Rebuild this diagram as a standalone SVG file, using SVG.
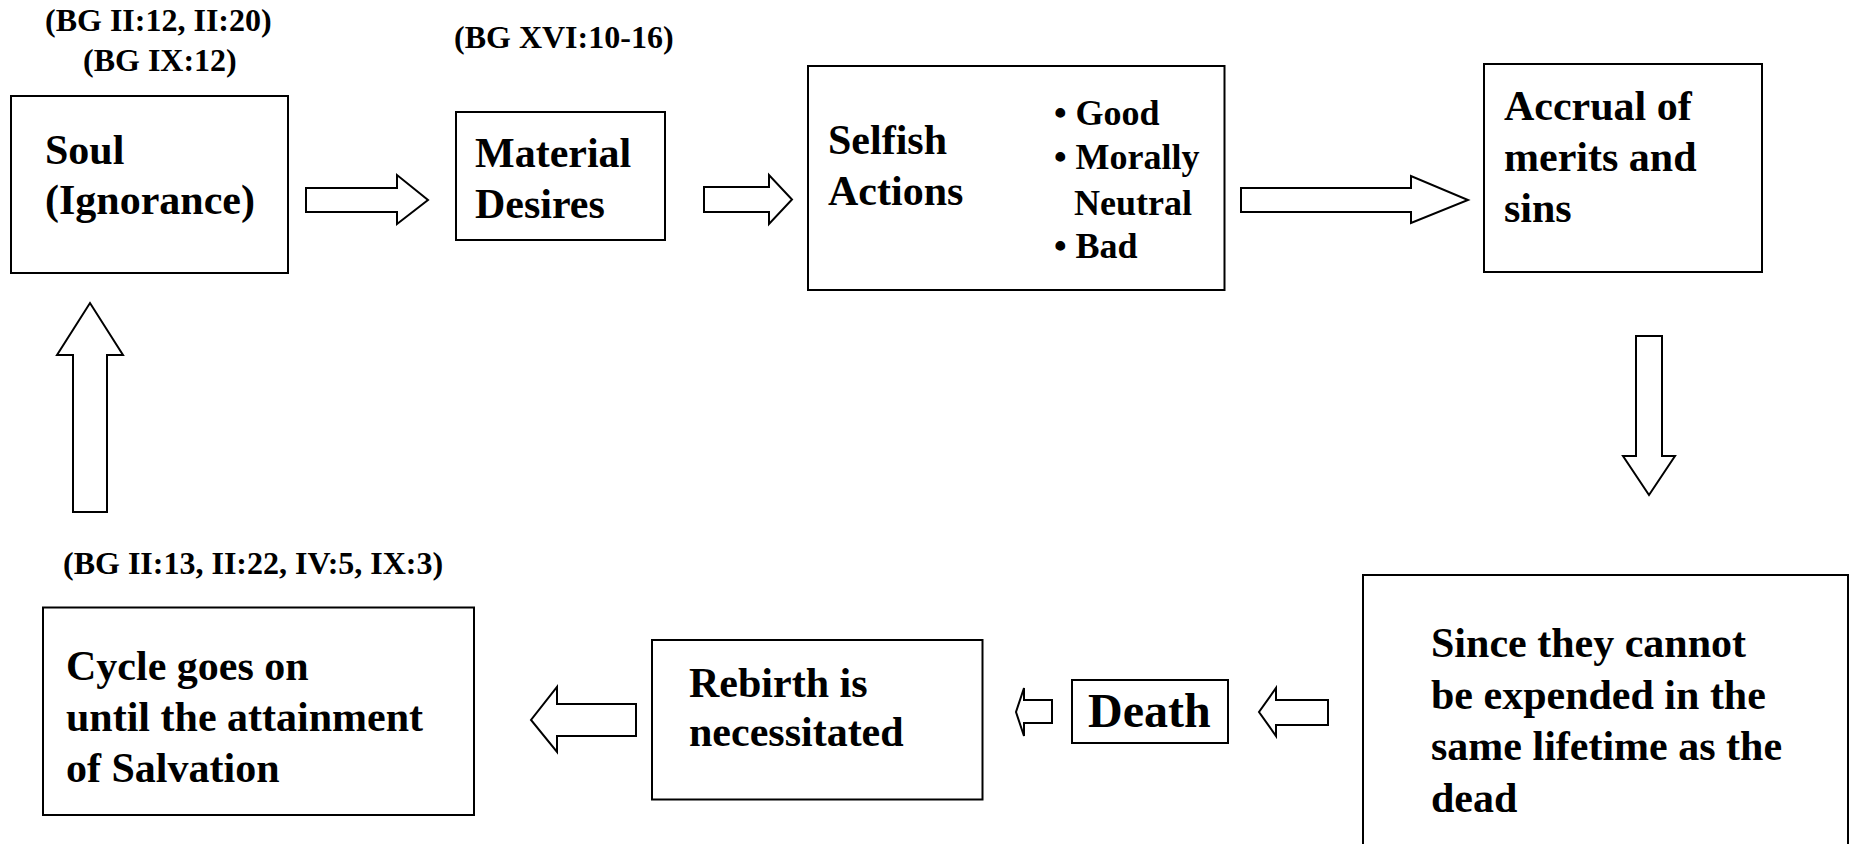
<svg xmlns="http://www.w3.org/2000/svg" width="1850" height="844" viewBox="0 0 1850 844">
  <style>
    .box { fill: #fff; stroke: #000; stroke-width: 2; }
    .arrow { fill: #fff; stroke: #000; stroke-width: 2; stroke-linejoin: miter; }
    text { font-family: "Liberation Serif", "Times New Roman", serif; font-weight: bold; fill: #000; }
    .main { font-size: 42px; }
    .bul { font-size: 36px; }
    .ref { font-size: 32px; }
    .big { font-size: 48px; }
  </style>
  <rect width="1850" height="844" fill="#fff"/>

  <!-- scripture references -->
  <g id="refs">
    <text class="ref" x="45" y="31">(BG II:12, II:20)</text>
    <text class="ref" x="83" y="71">(BG IX:12)</text>
    <text class="ref" x="454" y="48">(BG XVI:10-16)</text>
    <text class="ref" x="63" y="574">(BG II:13, II:22, IV:5, IX:3)</text>
  </g>

  <g id="soul">
    <rect class="box" x="11" y="96" width="277" height="177"/>
    <text class="main" x="45" y="164">Soul</text>
    <text class="main" x="45" y="214">(Ignorance)</text>
  </g>

  <g id="desires">
    <rect class="box" x="456" y="112" width="209" height="128"/>
    <text class="main" x="475" y="167">Material</text>
    <text class="main" x="475" y="218">Desires</text>
  </g>

  <g id="actions">
    <rect class="box" x="808" y="66" width="416.5" height="224"/>
    <text class="main" x="828" y="154">Selfish</text>
    <text class="main" x="828" y="205">Actions</text>
    <text class="bul" x="1054" y="125">• Good</text>
    <text class="bul" x="1054" y="169">• Morally</text>
    <text class="bul" x="1074" y="215">Neutral</text>
    <text class="bul" x="1054" y="258">• Bad</text>
  </g>

  <g id="accrual">
    <rect class="box" x="1484" y="64" width="278" height="208"/>
    <text class="main" x="1504" y="120">Accrual of</text>
    <text class="main" x="1504" y="171">merits and</text>
    <text class="main" x="1504" y="222">sins</text>
  </g>

  <g id="unspent">
    <rect class="box" x="1363" y="575" width="485" height="300"/>
    <text class="main" x="1431" y="657">Since they cannot</text>
    <text class="main" x="1431" y="709">be expended in the</text>
    <text class="main" x="1431" y="760">same lifetime as the</text>
    <text class="main" x="1431" y="812">dead</text>
  </g>

  <g id="death">
    <rect class="box" x="1072" y="680" width="156" height="63"/>
    <text class="big" x="1088" y="727">Death</text>
  </g>

  <g id="rebirth">
    <rect class="box" x="652" y="640" width="330.5" height="159.5"/>
    <text class="main" x="689" y="697">Rebirth is</text>
    <text class="main" x="689" y="746">necessitated</text>
  </g>

  <g id="cycle">
    <rect class="box" x="43" y="607.5" width="431" height="207.5"/>
    <text class="main" x="66" y="680">Cycle goes on</text>
    <text class="main" x="66" y="731">until the attainment</text>
    <text class="main" x="66" y="782">of Salvation</text>
  </g>

  <!-- block arrows -->
  <g id="connectors">
    <polygon class="arrow" points="306,188 397,188 397,175 428,200 397,224 397,212 306,212"/>
    <polygon class="arrow" points="704,187 769,187 769,175 792,199.5 769,224 769,212 704,212"/>
    <polygon class="arrow" points="1241,188 1411,188 1411,176 1468,200 1411,223 1411,212 1241,212"/>
    <polygon class="arrow" points="1636,336 1662,336 1662,456 1675,456 1649,495 1623,456 1636,456"/>
    <polygon class="arrow" points="1328,700 1276,700 1276,688 1259,712 1276,736 1276,725 1328,725"/>
    <polygon class="arrow" points="1052,700 1024,700 1024,688 1016,712 1024,736 1024,723 1052,723"/>
    <polygon class="arrow" points="636,704 557,704 557,687 531,720 557,752 557,736 636,736"/>
    <polygon class="arrow" points="73,512 73,355 57,355 90,303 123,355 107,355 107,512"/>
  </g>
</svg>
